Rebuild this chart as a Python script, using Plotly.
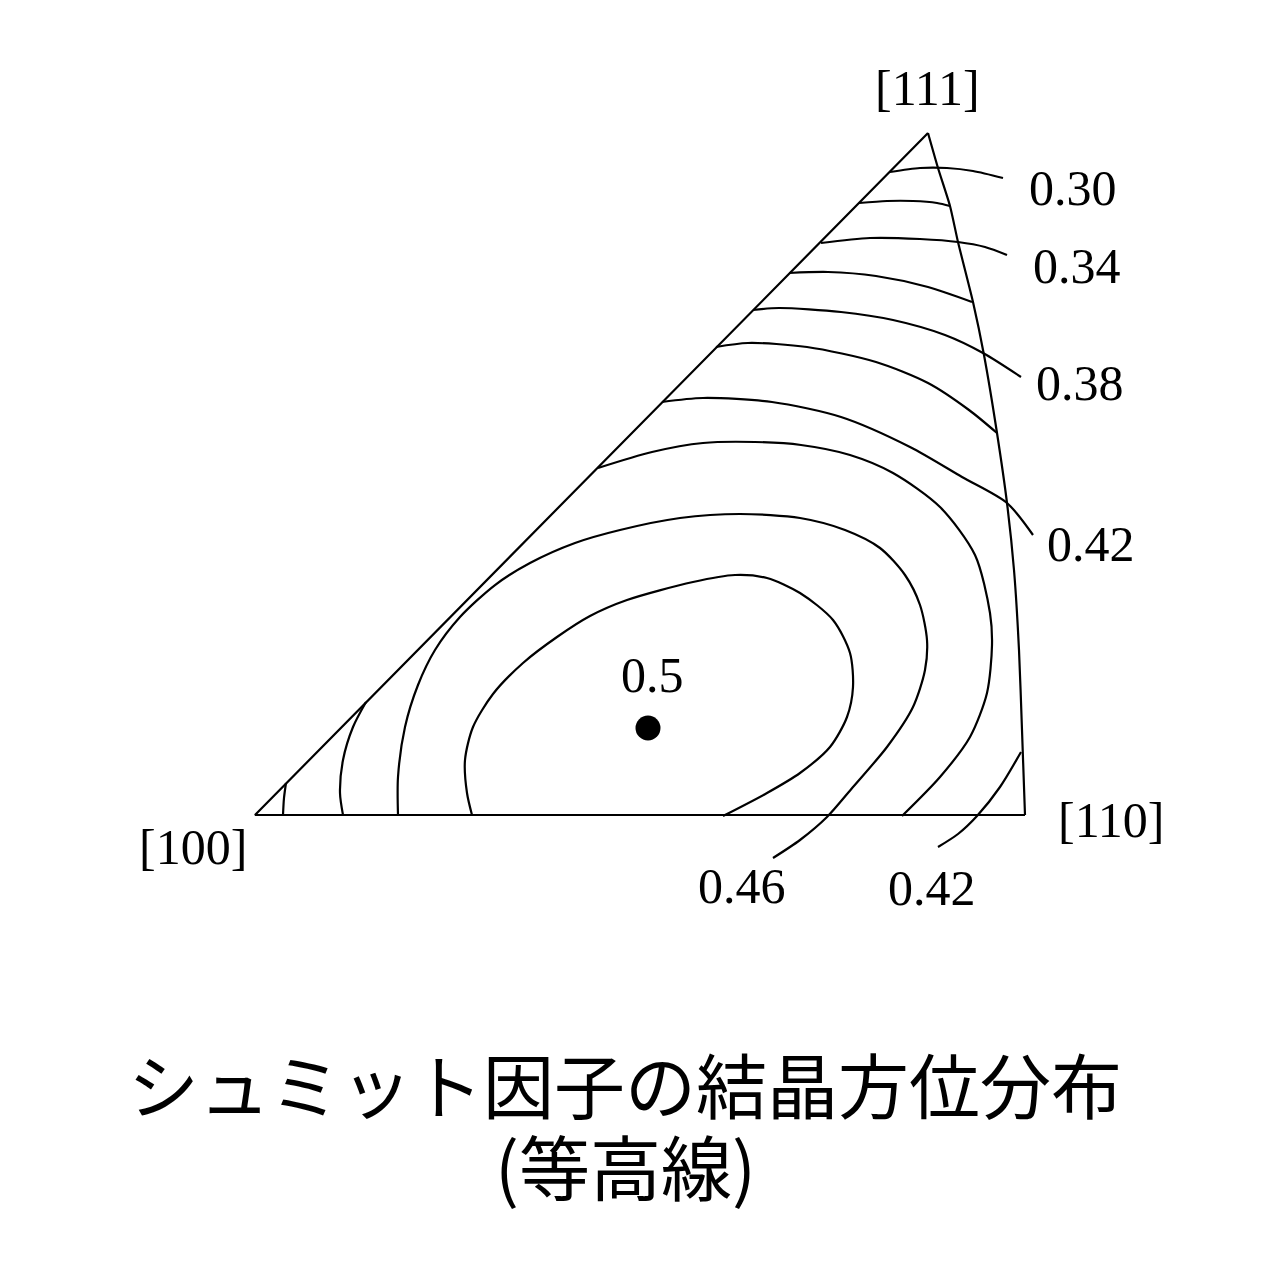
import plotly.graph_objects as go

# ---- Data: positions (image units, y grows downward) ----
# Stereographic triangle corners
corner_names = ["[100]", "[110]", "[111]"]
corner_x = [255, 1025, 928]
corner_y = [815, 815, 133]

# Curved [110]-[111] edge
edge_x = [1025, 1022, 1019, 1014, 1007, 997, 984, 973, 958, 950, 938, 928]
edge_y = [815, 730, 650, 570, 503, 433, 355, 302, 242, 206, 168, 133]

# Schmid-factor contour lines (x list, y list)
c030_x = [890, 920, 947, 973, 1003]
c030_y = [172, 168, 168, 171, 178]
c032_x = [859, 887, 913, 937, 950]
c032_y = [203, 201, 201, 203, 206]
c034_x = [821, 870, 920, 958, 985, 1007]
c034_y = [243, 238, 239, 242, 247, 255]
c036_x = [789, 828, 876, 928, 972]
c036_y = [273, 272, 276, 287, 302]
c038_x = [753, 779, 841, 893, 945, 983, 1021]
c038_y = [310, 308, 312, 320, 335, 353, 377]
c040_x = [716, 748, 807, 876, 928, 969, 997]
c040_y = [347, 343, 347, 362, 383, 410, 433]
c042a_x = [662, 703, 772, 841, 910, 962, 1007, 1033]
c042a_y = [402, 398, 402, 417, 447, 477, 503, 535]
c042b_x = [286, 284, 283]
c042b_y = [783, 798, 815]
c042c_x = [938, 958, 977, 1000, 1021]
c042c_y = [847, 834, 816, 787, 752]
c044a_x = [598, 652, 703, 755, 801, 850, 893, 940, 975, 990, 992, 987, 970, 940, 902]
c044a_y = [468, 452, 443, 442, 445, 455, 473, 507, 555, 613, 645, 693, 737, 777, 816]
c044b_x = [366, 353, 343, 340, 343]
c044b_y = [702, 727, 760, 793, 815]
c046_x = [773, 800, 827, 853, 887, 913, 925, 927, 920, 905, 880, 845, 800, 740, 680,
          620, 575, 530, 495, 460, 435, 418, 405, 398, 398]
c046_y = [858, 840, 817, 787, 747, 707, 670, 640, 605, 575, 548, 530, 518, 514, 518,
          530, 543, 563, 585, 617, 650, 685, 727, 777, 815]
c048_x = [723, 767, 800, 830, 847, 853, 850, 833, 800, 767, 735, 693, 627, 590, 557,
          523, 493, 473, 465, 467, 472]
c048_y = [816, 793, 773, 747, 717, 687, 653, 620, 593, 578, 575, 582, 600, 616, 637,
          663, 694, 727, 760, 793, 815]

# Maximum point
max_x = [648]
max_y = [728]

# Text labels
label_text = ["0.30", "0.34", "0.38", "0.42", "0.5", "0.46", "0.42"]
label_x = [1073, 1077, 1080, 1091, 652, 742, 932]
label_y = [188, 266, 383, 544, 675, 886, 888]
corner_label_x = [193, 1111, 927]
corner_label_y = [847, 820, 88]

title_lines = ["シュミット因子の結晶方位分布", "(等高線)"]
title_x = [625, 625]
title_y = [1082, 1164]

# ---- Figure ----
fig = go.Figure()
LW = 2.2

# Triangle: straight edges
fig.add_trace(go.Scatter(x=[corner_x[2], corner_x[0], corner_x[1]],
                         y=[corner_y[2], corner_y[0], corner_y[1]],
                         mode="lines", line=dict(color="black", width=LW), hoverinfo="skip"))
# Curved edge
fig.add_trace(go.Scatter(x=edge_x, y=edge_y, mode="lines",
                         line=dict(color="black", width=LW, shape="spline", smoothing=0.6),
                         hoverinfo="skip"))

contours = [
    (c030_x, c030_y), (c032_x, c032_y), (c034_x, c034_y), (c036_x, c036_y),
    (c038_x, c038_y), (c040_x, c040_y), (c042a_x, c042a_y), (c042b_x, c042b_y),
    (c042c_x, c042c_y), (c044a_x, c044a_y), (c044b_x, c044b_y),
    (c046_x, c046_y), (c048_x, c048_y),
]
for xs, ys in contours:
    fig.add_trace(go.Scatter(x=xs, y=ys, mode="lines",
                             line=dict(color="black", width=LW, shape="spline", smoothing=0.8),
                             hoverinfo="skip"))

fig.add_trace(go.Scatter(x=max_x, y=max_y, mode="markers",
                         marker=dict(color="black", size=25), hoverinfo="skip"))

serif = dict(family="Liberation Serif, DejaVu Serif, serif", size=50, color="black")
annotations = []
for t, x, y in zip(label_text, label_x, label_y):
    annotations.append(dict(text=t, x=x, y=y, xref="x", yref="y", showarrow=False,
                            font=serif, xanchor="center", yanchor="middle"))
for t, x, y in zip(corner_names, corner_label_x, corner_label_y):
    annotations.append(dict(text=t, x=x, y=y, xref="x", yref="y", showarrow=False,
                            font=serif, xanchor="center", yanchor="middle"))
for t, x, y in zip(title_lines, title_x, title_y):
    annotations.append(dict(text=t, x=x, y=y, xref="x", yref="y", showarrow=False,
                            font=dict(family="Noto Sans CJK JP", size=71, color="black"),
                            xanchor="center", yanchor="middle"))

fig.update_layout(
    width=1258, height=1272,
    margin=dict(l=0, r=0, t=0, b=0),
    paper_bgcolor="white", plot_bgcolor="white",
    showlegend=False,
    xaxis=dict(range=[8, 1266], visible=False, fixedrange=True),
    yaxis=dict(range=[1280, 8], visible=False, fixedrange=True),
    annotations=annotations,
)

fig.write_html("out.html")
